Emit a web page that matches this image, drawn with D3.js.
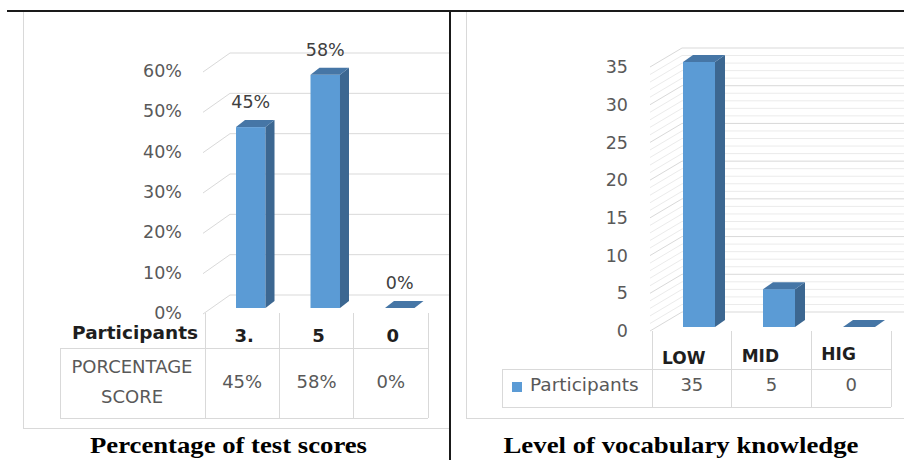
<!DOCTYPE html>
<html>
<head>
<meta charset="utf-8">
<script src="https://cdn.jsdelivr.net/npm/d3@7"></script>
<style>
  html, body { margin: 0; padding: 0; background: #ffffff; }
  svg { display: block; font-family: "DejaVu Sans", sans-serif; }
</style>
</head>
<body>
<script>
// ---------- DATA ----------
const scoreCategories = ["3.", "5", "0"];          // "Participants" row labels
const scorePercent = [45, 58, 0];                   // percentage score
const scoreTicks = [0, 10, 20, 30, 40, 50, 60];
const scoreRowName = "Participants";
const scoreSeriesName = ["PORCENTAGE", "SCORE"];
const scoreTitle = "Percentage of test scores";

const levelCategories = ["LOW", "MID", "HIG"];
const levelValues = [35, 5, 0];
const levelTicks = [0, 5, 10, 15, 20, 25, 30, 35];
const levelSeriesName = "Participants";
const levelTitle = "Level of vocabulary knowledge";

// ---------- STYLE ----------
const C_FRONT = "#5b9bd5", C_SIDE = "#3c6791", C_TOP = "#4676a6";
const C_GRID = "#d9d9d9", C_MINOR = "#ebebeb";
const C_AXIS = "#595959", C_DARK = "#1e1e1e", C_LABEL = "#404040";
const SERIF = "'Liberation Serif', 'Times New Roman', serif";

const svg = d3.select("body").append("svg").attr("width", 904).attr("height", 460);

function line(g, x1, y1, x2, y2, color, w) {
  g.append("line").attr("x1", x1).attr("y1", y1).attr("x2", x2).attr("y2", y2)
    .attr("stroke", color).attr("stroke-width", w || 1).attr("shape-rendering", "crispEdges");
}

function bars3d(g, cats, vals, xs, ys, dx, dy) {
  cats.forEach((c, i) => {
    const v = vals[i];
    const x0 = xs(c), w = xs.bandwidth();
    const yb = ys(0), yt = ys(v);
    if (v > 0) {
      g.append("rect").attr("x", x0).attr("y", yt).attr("width", w).attr("height", yb - yt).attr("fill", C_FRONT);
      g.append("polygon").attr("fill", C_SIDE)
        .attr("points", [[x0 + w, yt], [x0 + w + dx, yt + dy], [x0 + w + dx, yb + dy], [x0 + w, yb]].join(" "));
    }
    g.append("polygon").attr("fill", C_TOP)
      .attr("points", [[x0, yt], [x0 + dx, yt + dy], [x0 + w + dx, yt + dy], [x0 + w, yt]].join(" "));
  });
}

// ================= LEFT CHART =================
{
  const g = svg.append("g");
  const FRONT_X = 203, BACK_X = 230, RIGHT_X = 449, DEPTH_Y = 19;
  const yBack = d3.scaleLinear().domain([0, 60]).range([295, 53]);
  const yBar = d3.scaleLinear().domain([0, 60]).range([308, 66.8]);
  const xBar = d3.scaleBand().domain(scoreCategories).range([213, 437.5]).paddingInner(0.604).paddingOuter(0.309);
  const xCol = d3.scaleBand().domain(scoreCategories).range([205, 428]);

  // frame
  line(g, 23, 12, 23, 428, C_GRID);
  line(g, 23, 428, RIGHT_X, 428, C_GRID);

  // gridlines (side wall + back wall)
  scoreTicks.forEach(t => {
    const yb = yBack(t);
    g.append("path").attr("fill", "none").attr("stroke", C_GRID).attr("stroke-width", 1)
      .attr("d", `M${FRONT_X},${yb + DEPTH_Y}L${BACK_X},${yb}L${RIGHT_X},${yb}`);
    g.append("text").attr("x", 182).attr("y", yb + DEPTH_Y - 1).attr("dy", "0.35em")
      .attr("text-anchor", "end").attr("font-size", 17.5).attr("fill", C_AXIS).text(t + "%");
  });

  bars3d(g, scoreCategories, scorePercent, xBar, yBar, 9, -7);

  // data labels
  scoreCategories.forEach((c, i) => {
    g.append("text").attr("x", xBar(c) + xBar.bandwidth() / 2).attr("y", yBar(scorePercent[i]) - 19)
      .attr("text-anchor", "middle").attr("font-size", 17.5).attr("fill", C_LABEL).text(scorePercent[i] + "%");
  });

  // data table
  xCol.domain().forEach(c => line(g, xCol(c), 313, xCol(c), 418, C_GRID));
  line(g, 428, 313, 428, 418, C_GRID);
  line(g, 60, 348, 428, 348, C_GRID);
  line(g, 60, 418, 428, 418, C_GRID);
  line(g, 60, 348, 60, 418, C_GRID);

  g.append("text").attr("x", 198).attr("y", 339).attr("text-anchor", "end")
    .attr("font-size", 18.5).attr("font-weight", "bold").attr("fill", C_DARK).text(scoreRowName);
  scoreCategories.forEach(c => {
    g.append("text").attr("x", xCol(c) + xCol.bandwidth() / 2 + 2).attr("y", 342).attr("text-anchor", "middle")
      .attr("font-size", 18).attr("font-weight", "bold").attr("fill", C_DARK).text(c);
  });
  scoreSeriesName.forEach((s, i) => {
    g.append("text").attr("x", 132).attr("y", 373 + i * 30).attr("text-anchor", "middle")
      .attr("font-size", 18).attr("fill", C_AXIS).text(s);
  });
  scoreCategories.forEach((c, i) => {
    g.append("text").attr("x", xCol(c) + xCol.bandwidth() / 2).attr("y", 388).attr("text-anchor", "middle")
      .attr("font-size", 18).attr("fill", C_AXIS).text(scorePercent[i] + "%");
  });

  g.append("text").attr("x", 228.5).attr("y", 453).attr("text-anchor", "middle")
    .style("font-family", SERIF).attr("font-weight", "bold")
    .attr("font-size", 24).attr("fill", "#000").attr("textLength", 277).attr("lengthAdjust", "spacingAndGlyphs")
    .text(scoreTitle);
}

// ================= RIGHT CHART =================
{
  const g = svg.append("g");
  const FRONT_X = 650, BACK_X = 682, RIGHT_X = 904, DEPTH_Y = 19;
  const yBack = d3.scaleLinear().domain([0, 35]).range([312, 48]);
  const yBar = d3.scaleLinear().domain([0, 35]).range([327, 62]);
  const xBar = d3.scaleBand().domain(levelCategories).range([663, 895]).paddingInner(0.6).paddingOuter(0.25);
  const xCol = d3.scaleBand().domain(levelCategories).range([652, 891]);

  // frame
  line(g, 466, 12, 466, 418, C_GRID);
  line(g, 466, 418, 904, 418, C_GRID);

  // minor gridlines
  d3.range(0, 36).filter(v => v % 5 !== 0).forEach(v => {
    const yb = yBack(v);
    g.append("path").attr("fill", "none").attr("stroke", C_MINOR).attr("stroke-width", 1)
      .attr("d", `M${FRONT_X},${yb + DEPTH_Y}L${BACK_X},${yb}L${RIGHT_X},${yb}`);
  });
  // major gridlines + tick labels
  levelTicks.forEach(t => {
    const yb = yBack(t);
    g.append("path").attr("fill", "none").attr("stroke", C_GRID).attr("stroke-width", 1)
      .attr("d", `M${FRONT_X},${yb + DEPTH_Y}L${BACK_X},${yb}L${RIGHT_X},${yb}`);
    g.append("text").attr("x", 628).attr("y", yb + DEPTH_Y).attr("dy", "0.35em")
      .attr("text-anchor", "end").attr("font-size", 17.5).attr("fill", C_AXIS).text(t);
  });

  bars3d(g, levelCategories, levelValues, xBar, yBar, 10, -7);

  // data table
  xCol.domain().forEach(c => line(g, xCol(c), 331, xCol(c), 407, C_GRID));
  line(g, 891, 331, 891, 407, C_GRID);
  line(g, 502, 369, 891, 369, C_GRID);
  line(g, 502, 407, 891, 407, C_GRID);
  line(g, 502, 369, 502, 407, C_GRID);

  levelCategories.forEach((c, i) => {
    g.append("text").attr("x", xCol(c) + 10).attr("y", 364 - i * 2)
      .attr("font-size", 17).attr("font-weight", "bold").attr("fill", C_DARK).text(c);
  });
  g.append("rect").attr("x", 512).attr("y", 382).attr("width", 10).attr("height", 10).attr("fill", C_FRONT);
  g.append("text").attr("x", 530).attr("y", 391).attr("font-size", 18.5).attr("fill", C_AXIS).text(levelSeriesName);
  levelCategories.forEach((c, i) => {
    g.append("text").attr("x", xCol(c) + xCol.bandwidth() / 2).attr("y", 391).attr("text-anchor", "middle")
      .attr("font-size", 18).attr("fill", C_AXIS).text(levelValues[i]);
  });

  g.append("text").attr("x", 681).attr("y", 453).attr("text-anchor", "middle")
    .style("font-family", SERIF).attr("font-weight", "bold")
    .attr("font-size", 24).attr("fill", "#000").attr("textLength", 355).attr("lengthAdjust", "spacingAndGlyphs")
    .text(levelTitle);
}

// ---------- page rules ----------
line(svg, 7, 10.5, 904, 10.5, "#1a1a1a", 2);
line(svg, 450, 10, 450, 460, "#1a1a1a", 2);
</script>
</body>
</html>
